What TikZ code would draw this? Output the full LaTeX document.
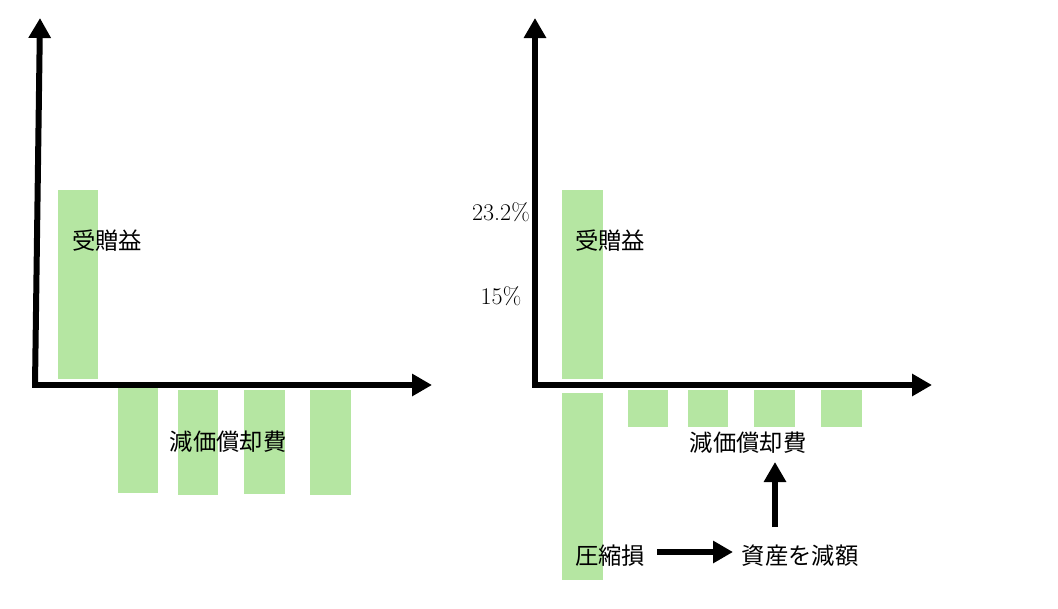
\documentclass[tikz,border=0pt]{standalone}
\usepackage{fontspec}
\newfontfamily\jp{Noto Sans CJK JP}
\usetikzlibrary{arrows.meta}
\definecolor{barg}{HTML}{B5E6A2}
\tikzset{
  ax/.style={line width=4.5pt,-{Triangle[length=15pt,width=16pt]}},
  bar/.style={fill=barg,draw=none},
  lbl/.style={font=\jp\fontsize{17.5pt}{20pt}\selectfont,inner sep=0pt},
  num/.style={font=\fontsize{18pt}{20pt}\selectfont,inner sep=0pt}
}
\begin{document}
\begin{tikzpicture}[x=0.75pt,y=-0.75pt]
\useasboundingbox (0,0) rectangle (1058,608);
% left
\fill[bar] (58,190) rectangle (98,379);
\fill[bar] (118,388) rectangle (158,493);
\fill[bar] (178,390) rectangle (218,495);
\fill[bar] (244,390) rectangle (285,494);
\fill[bar] (310,390) rectangle (351,495);
\coordinate (lo) at (35,385);
\coordinate (ly) at (40,18);
\coordinate (lx) at (432,385);
\draw[ax] (lo) -- (ly);
\draw[ax] ([xshift=-2.25pt]lo) -- (lx);
\node[lbl] (l1) at (107,241) {受贈益};
\node[lbl] (l2) at (228,442) {減価償却費};
% right
\fill[bar] (562,190) rectangle (603,379);
\fill[bar] (562,393) rectangle (603,580);
\fill[bar] (628,390) rectangle (668,427);
\fill[bar] (688,390) rectangle (728,427);
\fill[bar] (754,390) rectangle (795,427);
\fill[bar] (821,390) rectangle (862,427);
\coordinate (ro) at (535,385);
\coordinate (ry) at (535,18);
\coordinate (rx) at (932,385);
\draw[ax] (ro) -- (ry);
\draw[ax] ([xshift=-2.25pt]ro) -- (rx);
\node[lbl] (r1) at (610,241) {受贈益};
\node[lbl] (r2) at (748,443) {減価償却費};
\node[num] (n1) at (501,212) {23.2\%};
\node[num] (n2) at (501,296) {15\%};
\node[lbl] (r3) at (610,556) {圧縮損};
\node[lbl] (r4) at (800,556) {資産を減額};
\draw[ax] (657,552) -- (733,552);
\draw[ax] (775,527) -- (775,462);
\end{tikzpicture}
\end{document}
